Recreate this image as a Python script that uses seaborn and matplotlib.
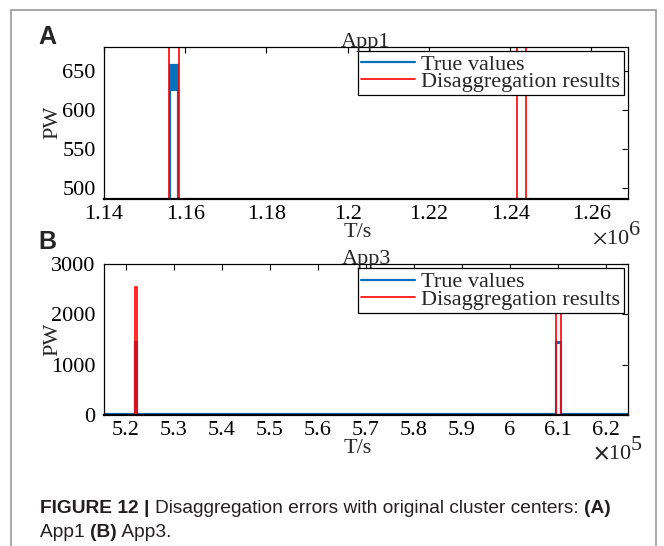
import matplotlib
matplotlib.use("Agg")
import matplotlib.pyplot as plt
import seaborn as sns
from matplotlib.patches import Rectangle
from matplotlib.ticker import FixedLocator, FuncFormatter

# ---- App1 (panel A): time in s, power in W ----
app1_true_t = [1.1400e6, 1.15625e6, 1.15625e6, 1.15820e6, 1.15820e6, 1.2690e6]
app1_true_p = [0, 0, 658, 658, 0, 0]
app1_band_t = [1.15625e6, 1.15820e6]
app1_band_lo = [625, 625]
app1_band_hi = [658, 658]
app1_est_t = [1.1400e6, 1.15608e6, 1.15608e6, 1.15836e6, 1.15836e6,
              1.24169e6, 1.24169e6, 1.24389e6, 1.24389e6, 1.2690e6]
app1_est_p = [0, 0, 682, 682, 0, 0, 682, 682, 0, 0]
app1_xticks = [1.14e6, 1.16e6, 1.18e6, 1.20e6, 1.22e6, 1.24e6, 1.26e6]
app1_yticks = [500, 550, 600, 650]

# ---- App3 (panel B) ----
app3_true_t = [5.155e5, 5.2197e5, 5.2197e5, 5.2235e5, 5.2235e5,
               6.0967e5, 6.0967e5, 6.1067e5, 6.1067e5, 6.246e5]
app3_true_p = [20, 20, 1443, 1443, 20, 20, 1443, 1443, 20, 20]
app3_band_t = [6.0983e5, 6.1055e5]
app3_band_lo = [1420, 1420]
app3_band_hi = [1470, 1470]
app3_est_t = [5.155e5, 5.2195e5, 5.2195e5, 5.2237e5, 5.2237e5,
              6.0957e5, 6.0957e5, 6.1075e5, 6.1075e5, 6.246e5]
app3_est_p = [0, 0, 2549, 2549, 0, 0, 2549, 2549, 0, 0]
app3_xticks = [5.2e5, 5.3e5, 5.4e5, 5.5e5, 5.6e5, 5.7e5, 5.8e5, 5.9e5, 6.0e5, 6.1e5, 6.2e5]
app3_yticks = [0, 1000, 2000, 3000]

series_labels = ["True values", "Disaggregation results"]

BLUE = "#0072BD"
RED = "#FF0000"
SERIF = ["Liberation Serif", "DejaVu Serif"]
FS = 16

sns.set_style("white")
plt.rcParams["font.family"] = SERIF
plt.rcParams["mathtext.fontset"] = "stix"

W, H = 664, 546
fig = plt.figure(figsize=(W / 100, H / 100), dpi=100)
fig.patch.set_facecolor("white")


def px_axes(left, top, right, bottom):
    return fig.add_axes([left / W, 1 - bottom / H, (right - left) / W, (bottom - top) / H])


def style_axes(ax, xlim, ylim, xticks, yticks, scale, title):
    ax.set_xlim(*xlim)
    ax.set_ylim(*ylim)
    ax.xaxis.set_major_locator(FixedLocator(xticks))
    ax.yaxis.set_major_locator(FixedLocator(yticks))
    ax.xaxis.set_major_formatter(FuncFormatter(lambda v, p: f"{v / scale:g}"))
    ax.yaxis.set_major_formatter(FuncFormatter(lambda v, p: f"{v:g}"))
    ax.tick_params(direction="in", top=True, right=True, length=4, width=0.8,
                   labelsize=FS, colors="black")
    ax.tick_params(axis="y", pad=6)
    ax.tick_params(axis="x", pad=4)
    for s in ax.spines.values():
        s.set_visible(True)
        s.set_color("black")
        s.set_linewidth(0.9)
    ax.spines["bottom"].set_linewidth(1.6)
    ax.set_title(title, fontsize=FS, pad=0)
    ax.set_xlabel("")
    ax.set_ylabel("")
    ax.text(0.485, -0.22, "T/s", transform=ax.transAxes, ha="center", va="center",
            fontsize=FS)
    ax.text(-0.097, 0.5, "PW", transform=ax.transAxes, ha="center", va="center",
            rotation=90, fontsize=FS)


def draw_panel(ax, tt, tp, bt, blo, bhi, et, ep):
    sns.lineplot(x=tt, y=tp, ax=ax, color=BLUE, lw=1.6, estimator=None, sort=False)
    ax.fill_between(bt, blo, bhi, color=BLUE, lw=0)
    sns.lineplot(x=et, y=ep, ax=ax, color=RED, lw=1.2, estimator=None, sort=False)
    handles = [ax.lines[0], ax.lines[-1]]
    leg = ax.legend(handles, series_labels, loc="upper right", fontsize=FS,
                    frameon=True, fancybox=False, framealpha=1, edgecolor="black",
                    handlelength=2.4, handletextpad=0.3, borderpad=0.15,
                    labelspacing=-0.15, borderaxespad=0.2)
    leg.get_frame().set_linewidth(0.9)


# Panel A
axA = px_axes(104, 46.5, 628, 199)
draw_panel(axA, app1_true_t, app1_true_p, app1_band_t, app1_band_lo, app1_band_hi,
           app1_est_t, app1_est_p)
style_axes(axA, (1.14e6, 1.269e6), (486, 682), app1_xticks, app1_yticks, 1e6, "App1")
fig.text(592 / W, 1 - 244 / H, r"$\times$10", fontsize=FS, ha="left", va="baseline")
fig.text(629 / W, 1 - 235 / H, "6", fontsize=FS, ha="left", va="baseline")

# Panel B
axB = px_axes(104, 264, 628, 415)
draw_panel(axB, app3_true_t, app3_true_p, app3_band_t, app3_band_lo, app3_band_hi,
           app3_est_t, app3_est_p)
style_axes(axB, (5.155e5, 6.246e5), (0, 3000), app3_xticks, app3_yticks, 1e5, "App3")
fig.text(593 / W, 1 - 459 / H, r"$\mathbf{\times}$10", fontsize=FS, ha="left",
         va="baseline")
fig.text(631 / W, 1 - 450 / H, "5", fontsize=FS, ha="left", va="baseline")

# Panel letters
for letter, (x, y) in {"A": (47.5, 37.5), "B": (47.5, 242)}.items():
    fig.text(x / W, 1 - y / H, letter, fontsize=18, fontweight="bold",
             family=["Liberation Sans", "DejaVu Sans"], ha="center", va="center")

# Grey frame around the figure body
fig.add_artist(Rectangle((11 / W, -0.05), (656 - 11) / W, 1 - 10 / H + 0.05,
                         transform=fig.transFigure, fill=False,
                         edgecolor="#9a9a9a", lw=1.2))

# Caption with mixed bold / regular runs
CAP = ["Liberation Sans Narrow", "Liberation Sans", "DejaVu Sans"]
caption_lines = [
    [("FIGURE 12 | ", "bold"), ("Disaggregation errors with original cluster centers: ", "normal"),
     ("(A)", "bold")],
    [("App1 ", "normal"), ("(B)", "bold"), (" App3.", "normal")],
]
fig.canvas.draw()
renderer = fig.canvas.get_renderer()
for line, base_y in zip(caption_lines, [513, 537]):
    x = 40
    for txt, wt in line:
        t = fig.text(x / W, 1 - base_y / H, txt, fontsize=13.8, fontweight=wt,
                     family=CAP, ha="left", va="baseline", color="#231f20")
        bb = t.get_window_extent(renderer)
        x += bb.width

fig.savefig("out.png", dpi=100)
